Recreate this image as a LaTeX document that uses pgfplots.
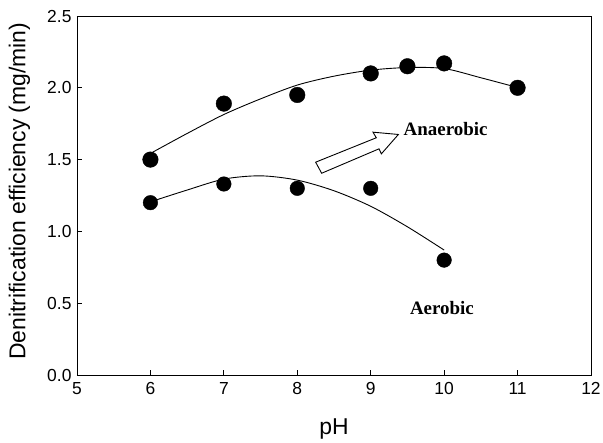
\documentclass[border=0pt]{standalone}
\usepackage{fontspec}
\setmainfont{Liberation Sans}
\newfontfamily\annfont{Liberation Serif}
\usepackage{pgfplots}
\pgfplotsset{compat=1.18}

\begin{document}
\begin{tikzpicture}
\begin{axis}[
    scale only axis,
    width=514bp, height=359bp,
    xmin=5, xmax=12, ymin=0, ymax=2.5,
    xtick={5,6,...,12},
    ytick={0,0.5,...,2.5},
    yticklabel style={/pgf/number format/fixed, /pgf/number format/fixed zerofill,
        /pgf/number format/precision=1, xshift=-2bp},
    /pgf/number format/assume math mode=true,
    tick label style={font=\fontsize{17.5}{20}\selectfont},
    xticklabel style={yshift=-4bp},
    xtick pos=left, ytick pos=left,
    tick align=inside,
    major tick length=5bp,
    axis line style={line width=0.9pt},
    tick style={line width=0.8pt, black},
    xlabel={pH}, ylabel={Denitrification efficiency (mg/min)},
    label style={font=\fontsize{23}{26}\selectfont},
    xlabel style={at={(axis description cs:0.5,-0.150)}, anchor=center},
    ylabel style={at={(axis description cs:-0.112,0.512)}, anchor=center},
    clip=false,
]
% anaerobic fitted curve
\addplot[black, line width=0.9pt, smooth] coordinates {
    (6,1.543) (6.5,1.682) (7,1.814) (7.5,1.923) (8,2.019) (8.5,2.081)
    (9,2.123) (9.5,2.141) (10,2.134) (10.5,2.070) (11,2.002)};
% aerobic fitted curve
\addplot[black, line width=0.9pt, smooth] coordinates {
    (6,1.206) (6.5,1.288) (7,1.364) (7.5,1.387) (8,1.357) (8.5,1.283)
    (9,1.175) (9.5,1.032) (10,0.870)};
% anaerobic data
\addplot[only marks, mark=*, mark size=7.8bp, black] coordinates {
    (6,1.50) (7,1.89) (8,1.95) (9,2.10) (9.5,2.15) (10,2.17) (11,2.00)};
% aerobic data
\addplot[only marks, mark=*, mark size=7.3bp, black] coordinates {
    (6,1.20) (7,1.33) (8,1.30) (9,1.30) (10,0.80)};

% hollow arrow
\draw[line width=0.9pt, fill=white, line join=miter]
    (axis cs:8.250,1.482) -- (axis cs:9.076,1.652) -- (axis cs:9.031,1.691)
    -- (axis cs:9.377,1.675) -- (axis cs:9.145,1.540) -- (axis cs:9.113,1.575)
    -- (axis cs:8.332,1.405) -- cycle;

\node[font=\annfont\bfseries\fontsize{19}{22}\selectfont] at (axis cs:10.02,1.71) {Anaerobic};
\node[font=\annfont\bfseries\fontsize{19}{22}\selectfont] at (axis cs:9.97,0.464) {Aerobic};
\end{axis}
\pgfresetboundingbox
\path[use as bounding box] (current axis.south west) ++(-77bp,-68bp) rectangle ++(603bp,443bp);
\end{tikzpicture}
\end{document}
